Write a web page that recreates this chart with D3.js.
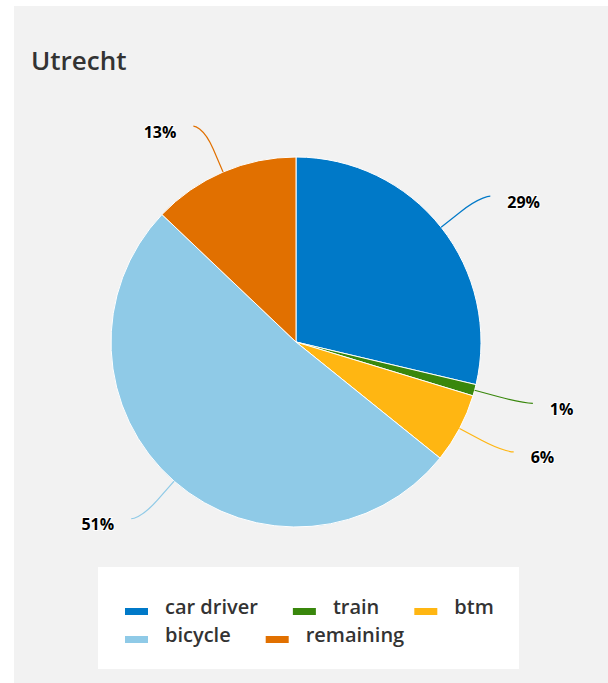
<!DOCTYPE html>
<html>
<head>
<meta charset="utf-8">
<script src="https://cdn.jsdelivr.net/npm/d3@7"></script>
<style>
  html, body { margin: 0; padding: 0; background: #fff; }
  svg { display: block; font-family: "Open Sans", sans-serif; }
</style>
</head>
<body>
<div id="chart"></div>
<script>
// datos
var categorias = ["car driver", "train", "btm", "bicycle", "remaining"];
var valores = [28.7, 1.0, 6.1, 51.3, 12.9];
var colores = ["#0079c8", "#39870c", "#ffb612", "#8fcae7", "#e17000"];
var titulo = "Utrecht";

var ancho = 608, alto = 683;
var cx = 296, cy = 342, radio = 185;

var svg = d3.select("#chart").append("svg")
    .attr("width", ancho)
    .attr("height", alto);

// panel gris de fondo
svg.append("rect")
    .attr("x", 14).attr("y", 6)
    .attr("width", ancho - 14).attr("height", alto - 6)
    .attr("fill", "#f2f2f2");

svg.append("text")
    .attr("x", 31).attr("y", 70)
    .attr("font-size", 26)
    .attr("font-weight", 600)
    .attr("fill", "#333")
    .text(titulo);

var datos = categorias.map(function(c, i) {
    return { nombre: c, valor: valores[i], color: colores[i] };
});

var pie = d3.pie().sort(null).value(function(d) { return d.valor; });
var arcos = pie(datos);

var arc = d3.arc().innerRadius(0).outerRadius(radio);

var g = svg.append("g").attr("transform", "translate(" + cx + "," + cy + ")");

g.selectAll("path.slice")
    .data(arcos)
    .enter().append("path")
    .attr("class", "slice")
    .attr("d", arc)
    .attr("fill", function(d) { return d.data.color; })
    .attr("stroke", "#fff")
    .attr("stroke-width", 1);

// punto en un radio dado para un angulo (0 = arriba, sentido horario)
function punto(a, r) {
    return [Math.sin(a) * r, -Math.cos(a) * r];
}

arcos.forEach(function(d) {
    var a = (d.startAngle + d.endAngle) / 2;
    var lado = Math.sin(a) >= 0 ? 1 : -1;
    var E = punto(a, radio);
    var B = punto(a, radio + 25);
    var R = punto(a, radio + 50);
    var T = [R[0] + lado * 10, R[1]];
    var c2 = [2 * B[0] - E[0], 2 * B[1] - E[1]];

    g.append("path")
        .attr("d", "M" + T[0] + "," + T[1] +
            "C" + T[0] + "," + T[1] + " " + c2[0] + "," + c2[1] + " " + B[0] + "," + B[1] +
            "L" + E[0] + "," + E[1])
        .attr("fill", "none")
        .attr("stroke", d.data.color)
        .attr("stroke-width", 1.2);

    g.append("text")
        .attr("x", T[0] + lado * 17)
        .attr("y", T[1] + 11.5)
        .attr("text-anchor", lado > 0 ? "start" : "end")
        .attr("font-size", 16)
        .attr("font-weight", 700)
        .attr("fill", "#000")
        .attr("stroke", "#fff")
        .attr("stroke-width", 2)
        .attr("paint-order", "stroke")
        .text(Math.round(d.data.valor) + "%");
});

// leyenda
svg.append("rect")
    .attr("x", 98).attr("y", 567)
    .attr("width", 421).attr("height", 102)
    .attr("fill", "#fff");

var leyenda = svg.append("g");
var lx = 125, ly = 0, limite = 505;
datos.forEach(function(d) {
    var item = leyenda.append("g");
    var txt = item.append("text")
        .attr("x", 40)
        .attr("y", 614)
        .attr("font-size", 20)
        .attr("font-weight", 600)
        .attr("fill", "#333")
        .text(d.nombre);
    item.append("rect")
        .attr("x", 0).attr("y", 608)
        .attr("width", 23).attr("height", 7)
        .attr("fill", d.color);
    var w = 40 + txt.node().getComputedTextLength();
    if (lx + w > limite) { lx = 125; ly += 28; }
    item.attr("transform", "translate(" + lx + "," + ly + ")");
    lx += w + 35;
});
</script>
</body>
</html>
